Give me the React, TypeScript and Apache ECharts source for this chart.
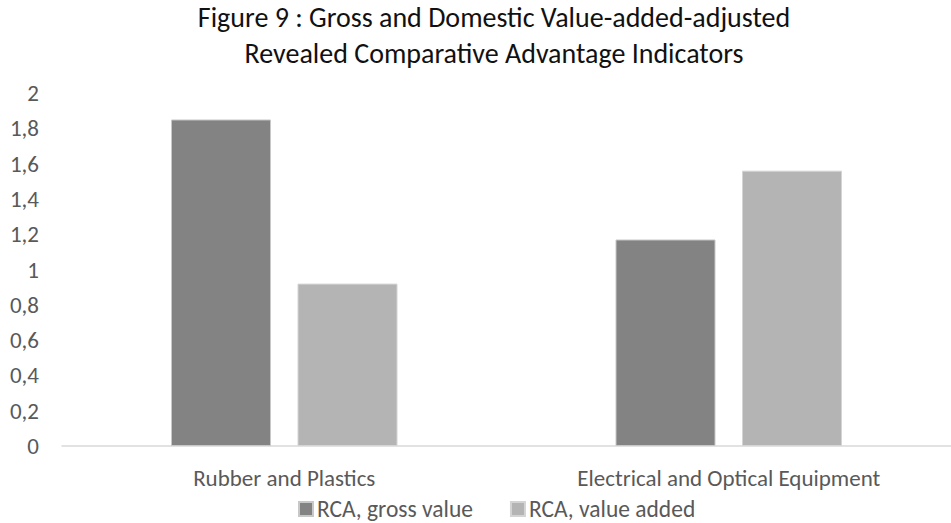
import React, { useEffect, useRef } from "react";
import * as echarts from "echarts";

const categories = ["Rubber and Plastics", "Electrical and Optical Equipment"];
const grossValue = [1.85, 1.17];
const valueAdded = [0.92, 1.56];
const seriesNames = ["RCA, gross value", "RCA, value added"];
const titleLines = [
  "Figure 9 : Gross and Domestic Value-added-adjusted",
  "Revealed Comparative Advantage Indicators",
];

const FONT = "Carlito, 'Open Sans', sans-serif";

export default function App() {
  const ref = useRef<HTMLDivElement>(null);

  useEffect(() => {
    document.body.style.margin = "0";
    if (!ref.current) return;
    const chart = echarts.init(ref.current, null, { renderer: "svg" });
    chart.setOption({
      animation: false,
      backgroundColor: "#ffffff",
      title: {
        text: titleLines.join("\n"),
        left: 494,
        top: -1,
        padding: 0,
        textAlign: "center",
        textStyle: {
          fontFamily: FONT,
          fontSize: 28,
          fontWeight: "normal",
          color: "#111111",
          lineHeight: 36,
        },
      },
      legend: {
        top: 497,
        left: 298,
        padding: 0,
        itemWidth: 14,
        itemHeight: 14,
        itemGap: 37,
        icon: "rect",
        textStyle: {
          fontFamily: FONT,
          fontSize: 23.5,
          color: "#595959",
          lineHeight: 20,
          padding: [0, 0, 0, -1],
        },
        data: seriesNames,
      },
      grid: { left: 62, right: 0, top: 93, bottom: 77, containLabel: false },
      xAxis: {
        type: "category",
        data: categories,
        axisLine: { lineStyle: { color: "#d9d9d9", width: 1.5 } },
        axisTick: { show: false },
        axisLabel: {
          fontFamily: FONT,
          fontSize: 23,
          color: "#595959",
          margin: 20,
        },
      },
      yAxis: {
        type: "value",
        min: 0,
        max: 2,
        interval: 0.2,
        splitLine: { show: false },
        axisLine: { show: false },
        axisTick: { show: false },
        axisLabel: {
          fontFamily: FONT,
          fontSize: 23,
          color: "#595959",
          margin: 23,
          formatter: (v: number) => String(Math.round(v * 10) / 10).replace(".", ","),
        },
      },
      series: [
        {
          name: seriesNames[0],
          type: "bar",
          data: grossValue,
          barWidth: 100,
          barGap: "26.5%",
          itemStyle: { color: "#838383", borderColor: "#c8c8c8", borderWidth: 1 },
        },
        {
          name: seriesNames[1],
          type: "bar",
          data: valueAdded,
          barWidth: 100,
          itemStyle: { color: "#b4b4b4", borderColor: "#d4d4d4", borderWidth: 1 },
        },
      ],
    });
    return () => chart.dispose();
  }, []);

  return <div ref={ref} style={{ width: 951, height: 523 }} />;
}
